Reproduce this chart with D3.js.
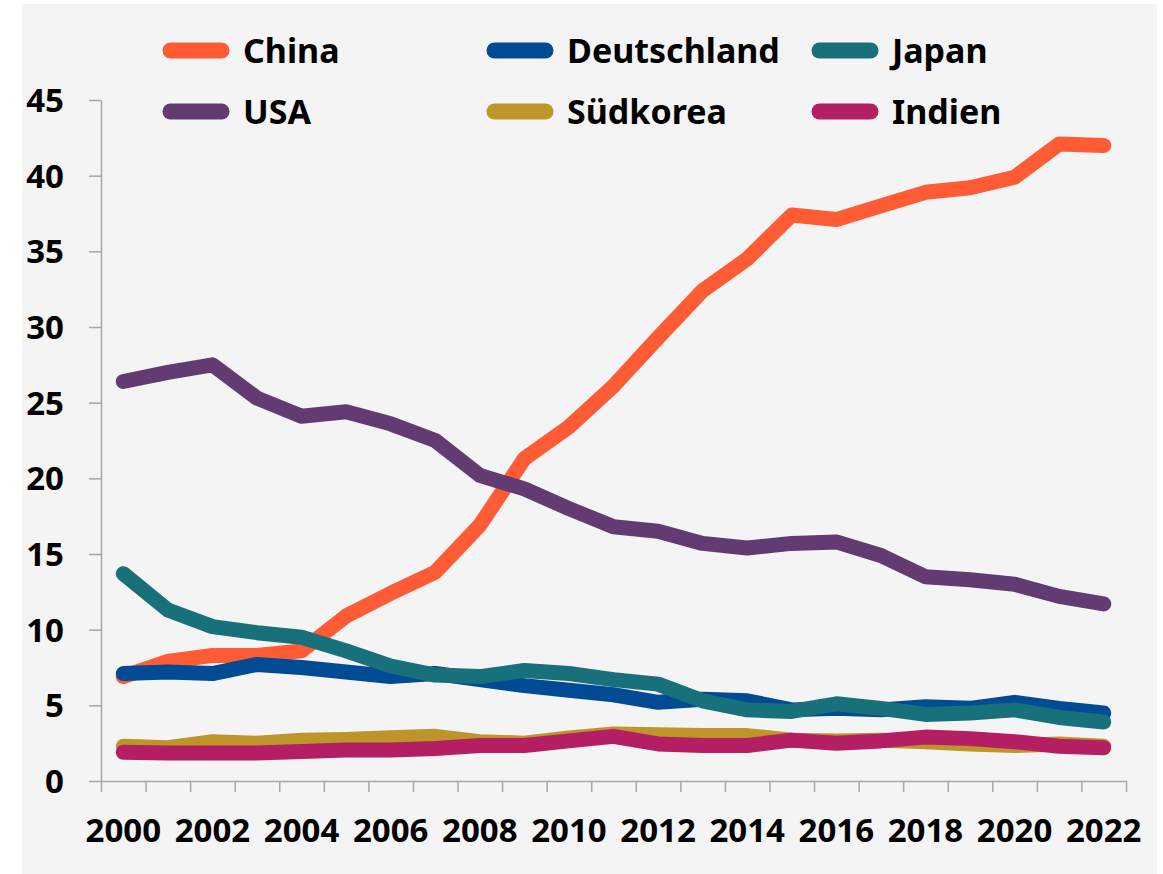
<!DOCTYPE html>
<html>
<head>
<meta charset="utf-8">
<script src="https://cdn.jsdelivr.net/npm/d3@7"></script>
<style>
    html, body { margin: 0; padding: 0; background: #ffffff; }
    svg { display: block; }
    text { font-family: "Noto Sans", "Open Sans", sans-serif; font-weight: 700; fill: #000; }
</style>
</head>
<body>
<svg id="chart" width="1163" height="874"></svg>
<script>

    var years = d3.range(2000, 2023),
        yTicks = [0, 5, 10, 15, 20, 25, 30, 35, 40, 45],
        xLabels = [2000, 2002, 2004, 2006, 2008, 2010, 2012, 2014, 2016, 2018, 2020, 2022];

    var china       = [6.9, 7.9, 8.3, 8.3, 8.6, 10.9, 12.4, 13.8, 16.9, 21.3, 23.4, 26.1, 29.3, 32.4, 34.5, 37.4, 37.1, 38.0, 38.9, 39.2, 39.9, 42.1, 42.0],
        deutschland = [7.1, 7.2, 7.1, 7.7, 7.5, 7.2, 6.9, 7.1, 6.7, 6.3, 6.0, 5.7, 5.2, 5.4, 5.3, 4.7, 4.8, 4.7, 4.9, 4.8, 5.2, 4.8, 4.5],
        japan       = [13.7, 11.3, 10.2, 9.8, 9.5, 8.6, 7.6, 7.0, 6.9, 7.3, 7.1, 6.7, 6.4, 5.3, 4.7, 4.6, 5.1, 4.8, 4.4, 4.5, 4.7, 4.2, 3.9],
        usa         = [26.4, 27.0, 27.5, 25.3, 24.1, 24.4, 23.6, 22.5, 20.2, 19.3, 18.0, 16.8, 16.5, 15.7, 15.4, 15.7, 15.8, 14.9, 13.5, 13.3, 13.0, 12.2, 11.7],
        suedkorea   = [2.3, 2.2, 2.6, 2.5, 2.7, 2.75, 2.85, 2.95, 2.6, 2.5, 2.85, 3.1, 3.05, 3.0, 3.0, 2.7, 2.65, 2.7, 2.6, 2.45, 2.35, 2.45, 2.3],
        indien      = [1.9, 1.85, 1.85, 1.85, 1.95, 2.05, 2.05, 2.15, 2.35, 2.35, 2.65, 2.95, 2.45, 2.35, 2.35, 2.7, 2.5, 2.65, 2.9, 2.8, 2.6, 2.3, 2.2];

    // legend order = drawing order (later ones on top)
    var seriesNames  = ['China', 'Deutschland', 'Japan', 'USA', 'Südkorea', 'Indien'],
        seriesValues = [china, deutschland, japan, usa, suedkorea, indien],
        seriesColors = ['#ff5c35', '#004b93', '#17707a', '#633b73', '#bd952b', '#b31f62'];

    var svg = d3.select('#chart'),
        lineWidth = 15,
        axisColor = '#a6a6a6';

    var x = d3.scaleLinear().domain([1999.5, 2022.5]).range([101, 1126]),
        y = d3.scaleLinear().domain([0, 45]).range([781, 100]);

    // grey panel
    svg.append('rect')
        .attr('x', 22).attr('y', 4)
        .attr('width', 1135).attr('height', 870)
        .attr('fill', '#f4f4f4');


    // axes
    //
    var yAxis = svg.append('g')
        .attr('transform', 'translate(' + x.range()[0] + ',0)')
        .call(d3.axisLeft(y).tickValues(yTicks).tickSize(12).tickSizeOuter(0));

    yAxis.selectAll('text')
        .attr('x', -37)
        .attr('dy', '0.35em')
        .style('font-size', '33px');

    var boundaries = d3.range(1999.5, 2023, 1);

    var xAxis = svg.append('g')
        .attr('transform', 'translate(0,' + y(0) + ')')
        .call(d3.axisBottom(x).tickValues(boundaries).tickSize(11).tickSizeOuter(0).tickFormat(''));

    [xAxis, yAxis].forEach(function(g) {
        g.select('.domain').attr('stroke', axisColor).attr('stroke-width', 1.5);
        g.selectAll('.tick line').attr('stroke', axisColor).attr('stroke-width', 1.5);
    });

    svg.append('g').selectAll('text')
        .data(xLabels)
        .enter().append('text')
            .attr('x', function(d) { return x(d); })
            .attr('y', 842)
            .attr('text-anchor', 'middle')
            .style('font-size', '33px')
            .text(function(d) { return d; });


    // series lines
    //
    var line = d3.line()
        .x(function(d, i) { return x(years[i]); })
        .y(function(d) { return y(d); });

    svg.append('g').selectAll('path')
        .data(seriesValues)
        .enter().append('path')
            .attr('d', line)
            .attr('fill', 'none')
            .attr('stroke', function(d, i) { return seriesColors[i]; })
            .attr('stroke-width', lineWidth)
            .attr('stroke-linecap', 'round')
            .attr('stroke-linejoin', 'round');


    // legend, filled row by row
    //
    var legendCols = [163, 487, 812],
        legendRows = [50.5, 111.5];

    var legend = svg.append('g').selectAll('g')
        .data(seriesNames)
        .enter().append('g')
            .attr('transform', function(d, i) {
                return 'translate(' + legendCols[i % 3] + ',' + legendRows[Math.floor(i / 3)] + ')';
            });

    legend.append('line')
        .attr('x1', 7.5).attr('x2', 58.5)
        .attr('y1', 0).attr('y2', 0)
        .attr('stroke', function(d, i) { return seriesColors[i]; })
        .attr('stroke-width', lineWidth + 1)
        .attr('stroke-linecap', 'round');

    legend.append('text')
        .attr('x', 80)
        .attr('y', 12)
        .style('font-size', '34px')
        .text(function(d) { return d; });

</script>
</body>
</html>
